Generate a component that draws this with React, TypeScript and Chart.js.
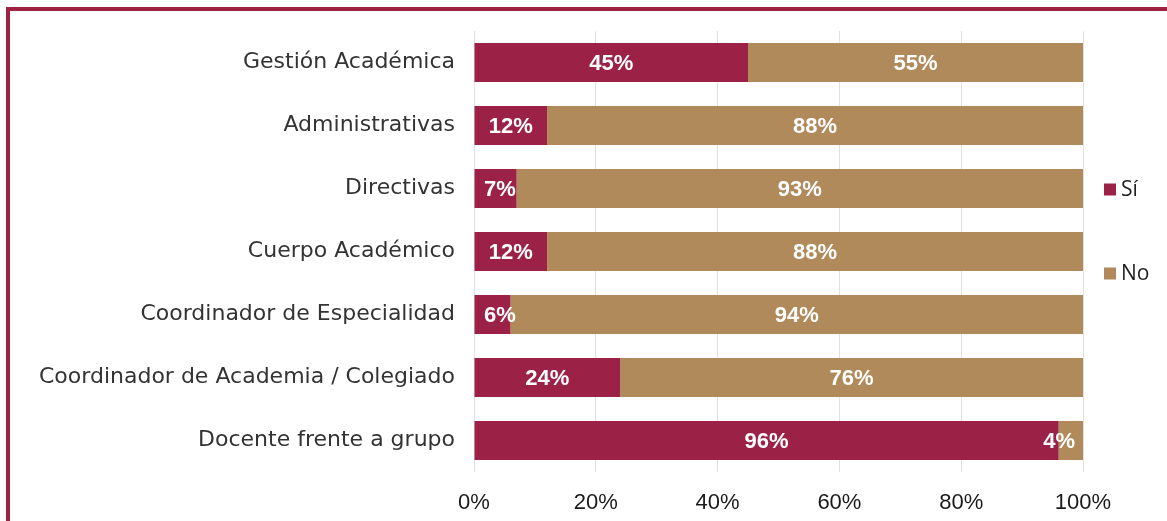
import React, { useEffect, useRef } from "react";
import { Chart, registerables } from "chart.js";

Chart.register(...registerables);

const categories = [
  "Gestión Académica",
  "Administrativas",
  "Directivas",
  "Cuerpo Académico",
  "Coordinador de Especialidad",
  "Coordinador de Academia / Colegiado",
  "Docente frente a grupo",
];
const siValues = [45, 12, 7, 12, 6, 24, 96];
const noValues = [55, 88, 93, 88, 94, 76, 4];
const seriesNames = ["Sí", "No"];
const xTicks = [0, 20, 40, 60, 80, 100];

const SI_COLOR = "#9b2246";
const NO_COLOR = "#b08a5a";
const SANS = "Arial, 'Liberation Sans', Helvetica, sans-serif";

const labelsPlugin = {
  id: "segLabels",
  afterDatasetsDraw(chart: any) {
    const ctx = chart.ctx;
    const area = chart.chartArea;
    ctx.save();
    ctx.fillStyle = "#ffffff";
    ctx.font = "bold 22px " + SANS;
    ctx.textAlign = "center";
    ctx.textBaseline = "middle";
    chart.data.datasets.forEach((ds: any, di: number) => {
      const meta = chart.getDatasetMeta(di);
      meta.data.forEach((el: any, i: number) => {
        const txt = ds.data[i] + "%";
        const w = ctx.measureText(txt).width;
        let cx = (el.x + el.base) / 2;
        cx = Math.max(cx, area.left + 10 + w / 2);
        cx = Math.min(cx, area.right - 8 - w / 2);
        ctx.fillText(txt, cx, el.y + 1);
      });
    });
    ctx.restore();
  },
};

const legendPlugin = {
  id: "sideLegend",
  afterDraw(chart: any) {
    const ctx = chart.ctx;
    const area = chart.chartArea;
    const mid = (area.top + area.bottom) / 2;
    const items = [
      { text: seriesNames[0], color: SI_COLOR, y: mid - 62 },
      { text: seriesNames[1], color: NO_COLOR, y: mid + 22 },
    ];
    ctx.save();
    ctx.font = "21px 'Open Sans', sans-serif";
    ctx.textAlign = "left";
    ctx.textBaseline = "middle";
    items.forEach((it) => {
      const x = area.right + 21;
      ctx.fillStyle = it.color;
      ctx.fillRect(x, it.y - 6, 12, 12);
      ctx.fillStyle = "#1f1f1f";
      ctx.fillText(it.text, x + 17, it.y + 1);
    });
    ctx.restore();
  },
};

export default function App() {
  const ref = useRef<HTMLCanvasElement | null>(null);
  useEffect(() => {
    document.body.style.margin = "0";
    if (!ref.current) return;
    const chart = new Chart(ref.current, {
      type: "bar",
      data: {
        labels: categories,
        datasets: [
          {
            label: seriesNames[0],
            data: siValues,
            backgroundColor: SI_COLOR,
            barPercentage: 0.62,
            categoryPercentage: 1,
          },
          {
            label: seriesNames[1],
            data: noValues,
            backgroundColor: NO_COLOR,
            barPercentage: 0.62,
            categoryPercentage: 1,
          },
        ],
      },
      options: {
        indexAxis: "y",
        animation: false,
        responsive: false,
        maintainAspectRatio: false,
        layout: { padding: { top: 31, right: 84, left: 0, bottom: 0 } },
        plugins: {
          legend: { display: false },
          tooltip: { enabled: false },
        },
        scales: {
          x: {
            stacked: true,
            min: 0,
            max: 100,
            afterBuildTicks: (axis: any) => {
              axis.ticks = xTicks.map((v) => ({ value: v }));
            },
            afterFit: (axis: any) => {
              axis.height = 49;
            },
            border: { display: false },
            grid: { color: "#e0e0e0", drawTicks: false, lineWidth: 1 },
            ticks: {
              padding: 18,
              color: "#1a1a1a",
              font: { family: SANS, size: 22 },
              callback: (v: any) => v + "%",
            },
          },
          y: {
            stacked: true,
            afterFit: (axis: any) => {
              axis.width = 474;
            },
            border: { display: false },
            grid: { display: false },
            ticks: {
              padding: 11,
              color: "#333333",
              font: { family: "'DejaVu Sans', sans-serif", size: 22 },
            },
          },
        },
      },
      plugins: [labelsPlugin, legendPlugin],
    } as any);
    let alive = true;
    const fonts: any = (document as any).fonts;
    if (fonts && fonts.load) {
      Promise.all([
        fonts.load("22px Arial"),
        fonts.load("bold 22px Arial"),
        fonts.load("22px 'DejaVu Sans'"),
        fonts.load("21px 'Open Sans'"),
      ])
        .then(() => {
          if (alive) chart.update();
        })
        .catch(() => {});
    }
    return () => {
      alive = false;
      chart.destroy();
    };
  }, []);

  return (
    <div
      style={{
        position: "absolute",
        left: 0,
        top: 0,
        width: 1167,
        height: 521,
        overflow: "hidden",
        background: "#ffffff",
      }}
    >
      <div
        style={{
          position: "absolute",
          left: 6,
          top: 7,
          width: 1300,
          height: 700,
          border: "4px solid #9e2242",
          boxSizing: "border-box",
        }}
      />
      <canvas
        ref={ref}
        width={1167}
        height={521}
        style={{ position: "absolute", left: 0, top: 0, width: 1167, height: 521 }}
      />
    </div>
  );
}
